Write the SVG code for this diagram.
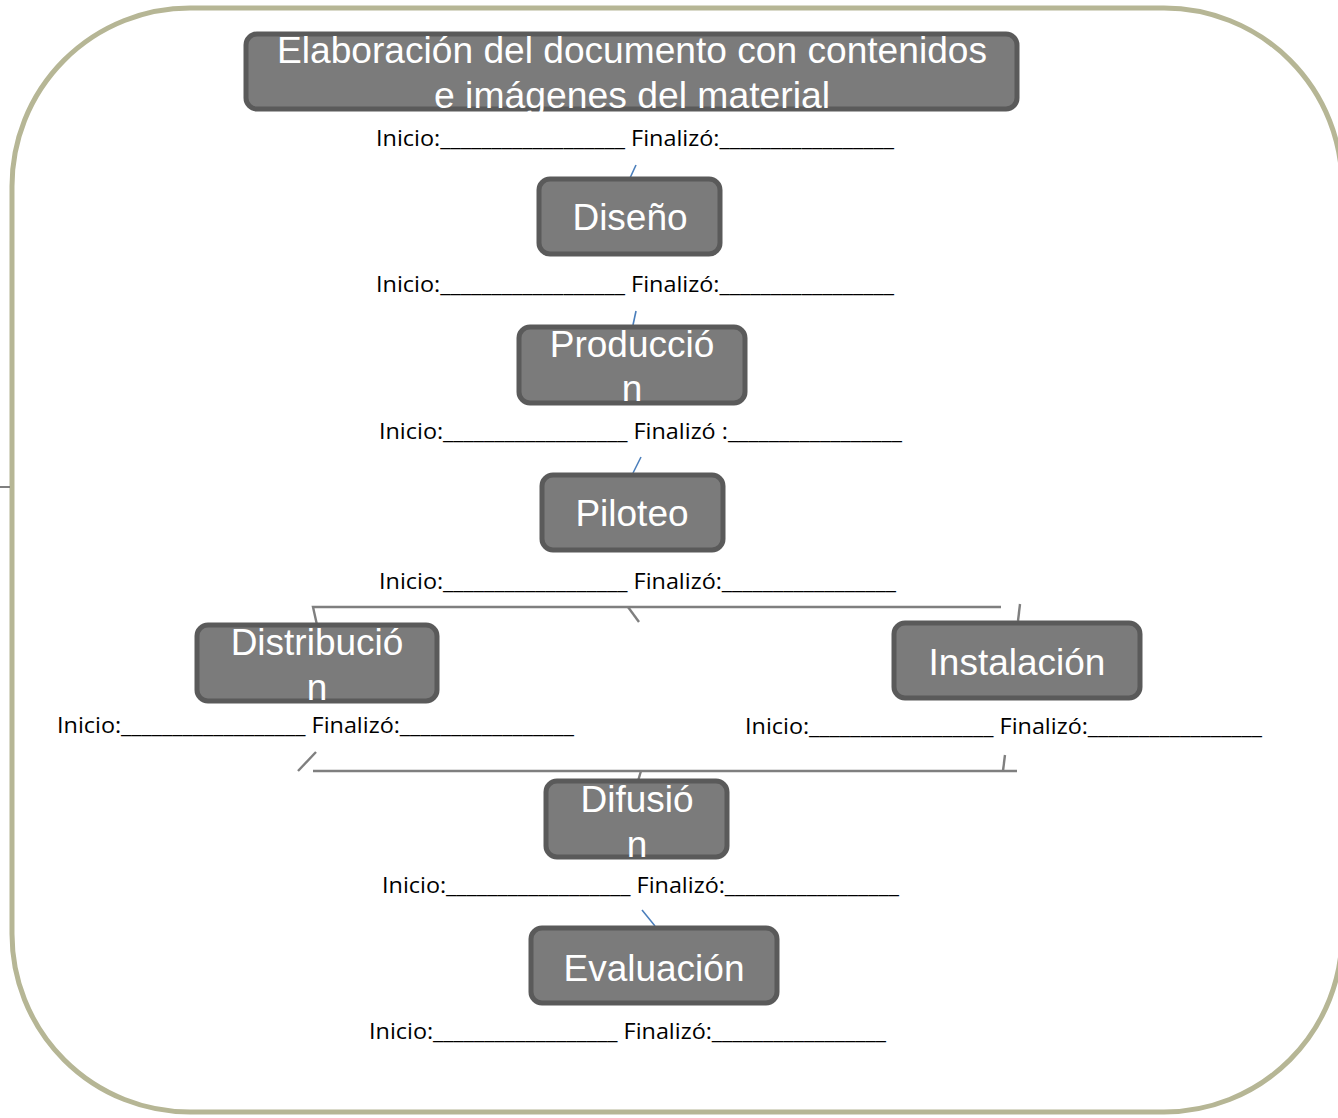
<svg xmlns="http://www.w3.org/2000/svg" width="1338" height="1118" viewBox="0 0 1338 1118">
<style>
.node{fill:#7b7b7b;stroke:#5a5a5a;stroke-width:5}
.nt{fill:#ffffff;font-family:"Liberation Sans",Arial,sans-serif;font-size:37px;text-anchor:middle}
.lbl{fill:#000000;font-family:"Open Sans","Liberation Sans",sans-serif;font-size:21px}
.blue{stroke:#4a7ebb;stroke-width:1.6;fill:none}
.gray{stroke:#7f7f7f;stroke-width:2.4;fill:none}
</style>
<rect width="1338" height="1118" fill="#ffffff"/>
<rect x="12" y="8" width="1330" height="1104" rx="178" ry="178" fill="none" stroke="#b6b695" stroke-width="5"/>
<line x1="0" y1="487" x2="10" y2="487" stroke="#7f7f7f" stroke-width="2"/>
<g id="connectors">
<line class="blue" x1="636" y1="165" x2="630" y2="178"/>
<line class="blue" x1="636" y1="311" x2="633" y2="325"/>
<line class="blue" x1="641" y1="457" x2="633" y2="473"/>
<polyline class="gray" points="317,625 313,607 1001,607"/>
<line class="gray" x1="628" y1="607" x2="639" y2="622"/>
<line class="gray" x1="1020" y1="604" x2="1018" y2="621"/>
<line class="gray" x1="298" y1="771" x2="316" y2="752"/>
<line class="gray" x1="313" y1="771" x2="1017" y2="771"/>
<line class="gray" x1="1005" y1="755" x2="1003" y2="771"/>
<line class="gray" x1="641" y1="771" x2="638" y2="781"/>
<line class="blue" x1="642" y1="910" x2="655" y2="926"/>
</g>
<g id="n1"><rect class="node" x="246" y="34" width="771" height="75" rx="11"/>
<text class="nt" x="632" y="63" textLength="710" lengthAdjust="spacingAndGlyphs">Elaboración del documento con contenidos</text>
<text class="nt" x="632" y="108" textLength="396" lengthAdjust="spacingAndGlyphs">e imágenes del material</text></g>
<g id="n2"><rect class="node" x="539" y="179" width="181" height="75" rx="11"/><text class="nt" x="630" y="230">Diseño</text></g>
<g id="n3"><rect class="node" x="519" y="327" width="226" height="76" rx="11"/><text class="nt" x="632" y="357">Producció</text><text class="nt" x="632" y="401">n</text></g>
<g id="n4"><rect class="node" x="542" y="475" width="181" height="75" rx="11"/><text class="nt" x="632" y="526">Piloteo</text></g>
<g id="n5"><rect class="node" x="197" y="625" width="240" height="76" rx="11"/><text class="nt" x="317" y="655">Distribució</text><text class="nt" x="317" y="700">n</text></g>
<g id="n6"><rect class="node" x="894" y="623" width="246" height="75" rx="11"/><text class="nt" x="1017" y="675">Instalación</text></g>
<g id="n7"><rect class="node" x="546" y="781" width="181" height="76" rx="11"/><text class="nt" x="637" y="812">Difusió</text><text class="nt" x="637" y="857">n</text></g>
<g id="n8"><rect class="node" x="531" y="928" width="246" height="75" rx="11"/><text class="nt" x="654" y="981">Evaluación</text></g>
<g id="labels">
<text class="lbl" x="376" y="146" textLength="518" lengthAdjust="spacingAndGlyphs">Inicio:__________________ Finalizó:_________________</text>
<text class="lbl" x="376" y="292" textLength="518" lengthAdjust="spacingAndGlyphs">Inicio:__________________ Finalizó:_________________</text>
<text class="lbl" x="379" y="439" textLength="523" lengthAdjust="spacingAndGlyphs">Inicio:__________________ Finalizó :_________________</text>
<text class="lbl" x="379" y="589" textLength="517" lengthAdjust="spacingAndGlyphs">Inicio:__________________ Finalizó:_________________</text>
<text class="lbl" x="57" y="733" textLength="517" lengthAdjust="spacingAndGlyphs">Inicio:__________________ Finalizó:_________________</text>
<text class="lbl" x="745" y="734" textLength="517" lengthAdjust="spacingAndGlyphs">Inicio:__________________ Finalizó:_________________</text>
<text class="lbl" x="382" y="893" textLength="517" lengthAdjust="spacingAndGlyphs">Inicio:__________________ Finalizó:_________________</text>
<text class="lbl" x="369" y="1039" textLength="517" lengthAdjust="spacingAndGlyphs">Inicio:__________________ Finalizó:_________________</text>
</g>
</svg>
